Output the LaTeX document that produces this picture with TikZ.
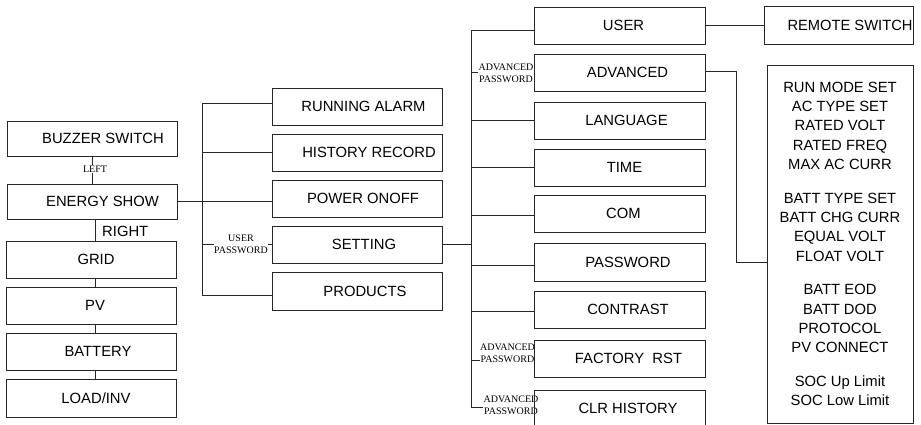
\documentclass[tikz,border=0pt]{standalone}
\usepackage{fontspec}
\setmainfont{Liberation Sans}
\newfontfamily\lblfont{Liberation Serif}
\usetikzlibrary{calc}
\pgfdeclarelayer{bg}
\pgfsetlayers{bg,main}
\newcommand\shifted[2]{\hspace*{#1pt}#2}
\tikzset{
  menubox/.style={draw=black!85, line width=0.8pt, minimum width=170, minimum height=37, inner sep=0pt,
    font=\fontsize{14.8}{17}\selectfont},
  conn/.style={draw=black!85, line width=0.8pt},
  pwlabel/.style={fill=white, inner sep=0.5pt, align=center, font=\fontsize{10}{12}\selectfont\lblfont},
  plainlabel/.style={inner sep=0pt, font=\fontsize{14.8}{17}\selectfont}
}
\begin{document}
\begin{tikzpicture}[x=1pt,y=-1pt]
\useasboundingbox (0,0) rectangle (921,425);
\clip (0,0) rectangle (921,425);
% left column
\node[menubox, minimum height=35] (bz) at (92,138.5) {\shifted{22}{BUZZER SWITCH}};
\node[menubox, minimum height=35] (es) at (92,201.5) {\shifted{21}{ENERGY SHOW}};
\node[menubox] (grid) at (91,259.5) {\shifted{10}{GRID}};
\node[menubox] (pv) at (91,305.5) {\shifted{8}{PV}};
\node[menubox] (bat) at (91,351.5) {\shifted{14}{BATTERY}};
\node[menubox, minimum height=38] (load) at (91,398) {\shifted{10}{LOAD/INV}};
% middle column
\node[menubox] (ra) at (357,106.5) {\shifted{13}{RUNNING ALARM}};
\node[menubox] (hr) at (357,152.5) {\shifted{24}{HISTORY RECORD}};
\node[menubox] (po) at (357,198.5) {\shifted{12}{POWER ONOFF}};
\node[menubox] (st) at (357,244.5) {\shifted{14}{SETTING}};
\node[menubox, minimum height=38] (pr) at (357,291) {\shifted{16}{PRODUCTS}};
% right column
\node[menubox, minimum width=171] (user) at (619.5,25.5) {\shifted{8}{USER}};
\node[menubox, minimum width=171] (adv) at (619.5,72.5) {\shifted{16}{ADVANCED}};
\node[menubox, minimum width=171] (lang) at (619.5,120.5) {\shifted{14}{LANGUAGE}};
\node[menubox, minimum width=171] (time) at (619.5,167.5) {\shifted{10}{TIME}};
\node[menubox, minimum width=171] (com) at (619.5,213.5) {\shifted{8}{COM}};
\node[menubox, minimum width=171, minimum height=38] (pw) at (619.5,262) {\shifted{17}{PASSWORD}};
\node[menubox, minimum width=171] (con) at (619.5,309.5) {\shifted{17}{CONTRAST}};
\node[menubox, minimum width=171] (fac) at (619.5,358.5) {\shifted{18}{FACTORY~~RST}};
\node[menubox, minimum width=171] (clr) at (619.5,408.5) {\shifted{17}{CLR HISTORY}};
% far right
\node[menubox, minimum width=149, minimum height=38] (remote) at (838.5,25) {\shifted{23}{\resizebox{125pt}{\height}{REMOTE SWITCH}}};
\node[menubox, minimum width=146, minimum height=358, align=center,
  font=\fontsize{14.8}{19.3}\selectfont] (big) at (840,244)
  {RUN MODE SET\\AC TYPE SET\\RATED VOLT\\RATED FREQ\\MAX AC CURR\\[14.5pt]
   BATT TYPE SET\\BATT CHG CURR\\EQUAL VOLT\\FLOAT VOLT\\[14.5pt]
   BATT EOD\\BATT DOD\\PROTOCOL\\PV CONNECT\\[14.5pt]
   SOC Up Limit\\SOC Low Limit};
% bus coordinates
\coordinate (b1t) at (202,103);
\coordinate (b1b) at (202,295);
\coordinate (b2t) at (471,30);
\coordinate (b2b) at (471,407);
\begin{pgfonlayer}{bg}
% left chain
\draw[conn] (bz.south) -- (es.north);
\draw[conn] ([xshift=3pt]es.south) -- ([xshift=3pt]es.south |- grid.north);
\draw[conn] ([xshift=4pt]grid.south) -- ([xshift=4pt]pv.north);
\draw[conn] ([xshift=4pt]pv.south) -- ([xshift=4pt]bat.north);
\draw[conn] ([xshift=4pt]bat.south) -- ([xshift=4pt]load.north);
\node[pwlabel] (leftlbl) at (95,169) {LEFT};
\node[plainlabel, anchor=west] (rightlbl) at (102,231) {RIGHT};
% middle bus
\draw[conn] (b1t) -- (b1b);
\draw[conn] (b1t) -- (b1t -| ra.west);
\draw[conn] (hr.west) -- (hr.west -| b1t);
\draw[conn] (es.east) -- (es.east -| po.west);
\draw[conn] (st.west) -- (st.west -| b1t);
\draw[conn] (b1b) -- (b1b -| pr.west);
\node[pwlabel] (userpw) at (241,244.5) {USER\\PASSWORD};
% right bus
\draw[conn] (st.east) -- (st.east -| b2t);
\draw[conn] (b2t) -- (b2b) -- (b2b -| clr.west);
\draw[conn] (b2t) -- (b2t -| user.west);
\draw[conn] (adv.west) -- (adv.west -| b2t);
\draw[conn] (lang.west) -- (lang.west -| b2t);
\draw[conn] (time.west) -- (time.west -| b2t);
\draw[conn] ([yshift=-1.5pt]com.west) -- ([yshift=-1.5pt]com.west -| b2t);
\draw[conn] ([yshift=-3pt]pw.west) -- ([yshift=-3pt]pw.west -| b2t);
\draw[conn] ([yshift=-1.5pt]con.west) -- ([yshift=-1.5pt]con.west -| b2t);
\draw[conn] ([yshift=-1.5pt]fac.west) -- ([yshift=-1.5pt]fac.west -| b2t);
\node[pwlabel] (advpw1) at (506,73) {ADVANCED\\PASSWORD};
\node[pwlabel] (advpw2) at (507.5,353.5) {ADVANCED\\PASSWORD};
\node[pwlabel] (advpw3) at (511,405) {ADVANCED\\PASSWORD};
% far right links
\draw[conn] (user.east) -- (user.east -| remote.west);
\draw[conn] ([yshift=1.5pt]adv.east) -- ++(31,0) |- ([yshift=-18pt]big.west);
\end{pgfonlayer}
\end{tikzpicture}
\end{document}
